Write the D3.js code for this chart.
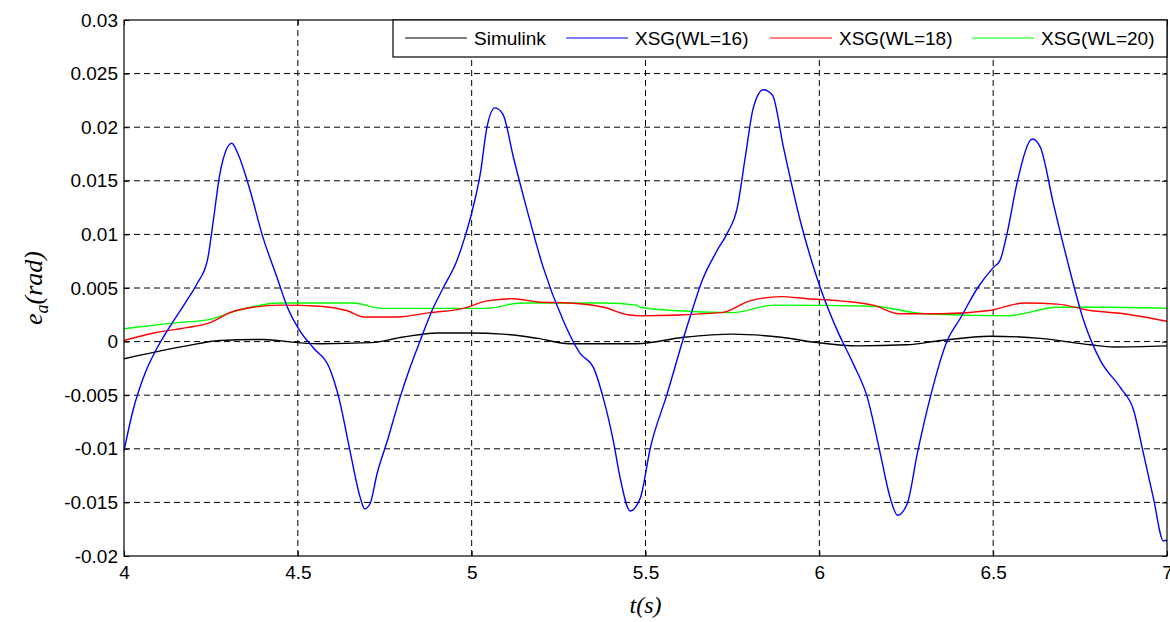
<!DOCTYPE html>
<html>
<head>
<meta charset="utf-8">
<script src="https://cdn.jsdelivr.net/npm/d3@7"></script>
<style>
body { margin: 0; background: #fff; }
</style>
</head>
<body>
<div id="chart"></div>
<script>
// series as [t, value] pairs
var simulink = [[4.0,-0.0016],[4.085,-0.001],[4.18,-0.0004],[4.276,0.0001],[4.40,0.0002],[4.50,-0.0001],[4.565,-0.0002],[4.71,-0.0001],[4.80,0.0004],[4.90,0.0008],[4.995,0.0008],[5.09,0.0007],[5.19,0.0003],[5.28,-0.0002],[5.475,-0.0002],[5.61,0.0004],[5.75,0.0007],[5.89,0.0004],[5.995,-0.0001],[6.11,-0.0004],[6.25,-0.0003],[6.35,0.0001],[6.49,0.0005],[6.636,0.0003],[6.78,-0.0003],[6.846,-0.0005],[7.0,-0.0004]];

var wl16 = [[4.0,-0.0102],[4.026,-0.0064],[4.06,-0.003],[4.095,-0.0006],[4.13,0.0013],[4.18,0.0038],[4.21,0.0054],[4.24,0.0076],[4.257,0.0113],[4.276,0.0157],[4.31,0.0185],[4.328,0.0175],[4.36,0.0144],[4.40,0.0097],[4.44,0.006],[4.47,0.0032],[4.506,0.001],[4.545,-0.0006],[4.59,-0.0024],[4.62,-0.0055],[4.65,-0.0102],[4.68,-0.0146],[4.692,-0.0156],[4.708,-0.0151],[4.728,-0.0123],[4.757,-0.0093],[4.794,-0.0052],[4.823,-0.0024],[4.852,0.0001],[4.886,0.0029],[4.918,0.005],[4.958,0.0076],[4.98,0.0097],[5.0,0.012],[5.025,0.0157],[5.044,0.020],[5.067,0.0218],[5.09,0.0212],[5.12,0.0172],[5.16,0.0122],[5.206,0.0069],[5.263,0.002],[5.312,-0.0011],[5.35,-0.0024],[5.378,-0.0052],[5.407,-0.0092],[5.427,-0.0127],[5.456,-0.0158],[5.485,-0.0146],[5.514,-0.0099],[5.562,-0.0049],[5.61,0.0004],[5.634,0.0029],[5.663,0.0057],[5.706,0.0085],[5.735,0.0101],[5.764,0.0125],[5.787,0.0172],[5.81,0.0218],[5.839,0.0235],[5.865,0.023],[5.897,0.0181],[5.945,0.0113],[6.003,0.005],[6.052,0.001],[6.098,-0.0021],[6.138,-0.0052],[6.175,-0.0104],[6.204,-0.0146],[6.225,-0.0162],[6.253,-0.0151],[6.282,-0.0104],[6.319,-0.0052],[6.368,0.0001],[6.406,0.0022],[6.455,0.005],[6.50,0.0069],[6.52,0.0076],[6.54,0.0101],[6.57,0.015],[6.613,0.0189],[6.636,0.0181],[6.673,0.0129],[6.713,0.0076],[6.76,0.002],[6.809,-0.0018],[6.866,-0.0043],[6.904,-0.0064],[6.932,-0.0104],[6.961,-0.0146],[6.99,-0.0186],[7.0,-0.0185]];

var wl18 = [[4.0,0.0001],[4.085,0.0008],[4.18,0.0013],[4.25,0.0018],[4.305,0.0027],[4.37,0.0032],[4.45,0.0034],[4.565,0.0033],[4.64,0.0029],[4.69,0.0023],[4.785,0.0023],[4.88,0.0027],[4.977,0.0031],[5.045,0.0038],[5.12,0.004],[5.19,0.0037],[5.28,0.0036],[5.38,0.0032],[5.45,0.0025],[5.485,0.0024],[5.72,0.0027],[5.80,0.0038],[5.89,0.0042],[5.965,0.004],[6.06,0.0038],[6.155,0.0034],[6.23,0.0026],[6.35,0.0026],[6.49,0.0029],[6.59,0.0036],[6.685,0.0035],[6.78,0.0029],[6.875,0.0026],[7.0,0.0019]];

var wl20 = [[4.0,0.0012],[4.13,0.0017],[4.25,0.0021],[4.325,0.0029],[4.45,0.0036],[4.66,0.0036],[4.74,0.0031],[5.045,0.0031],[5.14,0.0036],[5.38,0.0036],[5.475,0.0034],[5.485,0.0032],[5.58,0.0029],[5.75,0.0027],[5.87,0.0034],[6.155,0.0033],[6.30,0.0026],[6.54,0.0024],[6.685,0.0032],[6.83,0.0032],[7.0,0.0031]];

var seriesNames = ["Simulink", "XSG(WL=16)", "XSG(WL=18)", "XSG(WL=20)"];
var seriesColors = ["#000000", "#0000ff", "#ff0000", "#00ff00"];
var xTicks = [4, 4.5, 5, 5.5, 6, 6.5, 7];
var yTicks = [-0.02, -0.015, -0.01, -0.005, 0, 0.005, 0.01, 0.015, 0.02, 0.025, 0.03];

var width = 1170, height = 622;
var mLeft = 124, mRight = 1167, mTop = 20, mBottom = 556;

var svg = d3.select("#chart")
	.append("svg")
	.attr("width", width)
	.attr("height", height)
	.style("font-family", "Helvetica, Arial, 'Liberation Sans', sans-serif");

var x = d3.scaleLinear().domain([4, 7]).range([mLeft, mRight]);
var y = d3.scaleLinear().domain([-0.02, 0.03]).range([mBottom, mTop]);

// grid
svg.selectAll(".vgrid")
	.data(xTicks.slice(1, -1))
	.enter()
	.append("line")
	.attr("class", "vgrid")
	.attr("x1", d => x(d)).attr("x2", d => x(d))
	.attr("y1", mTop).attr("y2", mBottom)
	.attr("stroke", "#000")
	.attr("stroke-width", 1)
	.attr("stroke-dasharray", "6,4");

svg.selectAll(".hgrid")
	.data(yTicks.slice(1, -1))
	.enter()
	.append("line")
	.attr("class", "hgrid")
	.attr("x1", mLeft).attr("x2", mRight)
	.attr("y1", d => y(d)).attr("y2", d => y(d))
	.attr("stroke", "#000")
	.attr("stroke-width", 1)
	.attr("stroke-dasharray", "6,4");

// axes with inward ticks, plain hyphen for negatives
var xAxis = d3.axisBottom(x).tickValues(xTicks).tickSizeInner(-5).tickSizeOuter(0).tickFormat(d => String(d));
var yAxis = d3.axisLeft(y).tickValues(yTicks).tickSizeInner(-5).tickSizeOuter(0).tickFormat(d => String(d));

svg.append("g")
	.attr("transform", "translate(0," + mBottom + ")")
	.call(xAxis)
	.call(g => g.selectAll("text").attr("y", 10).attr("dy", "0.71em").style("font-size", "19px").attr("fill", "#000"));

svg.append("g")
	.attr("transform", "translate(" + mLeft + ",0)")
	.call(yAxis)
	.call(g => g.selectAll("text").attr("x", -6).style("font-size", "19px").attr("fill", "#000"));

svg.append("g")
	.attr("transform", "translate(0," + mTop + ")")
	.call(d3.axisTop(x).tickValues(xTicks).tickSizeInner(-5).tickSizeOuter(0).tickFormat(""));

svg.append("g")
	.attr("transform", "translate(" + mRight + ",0)")
	.call(d3.axisRight(y).tickValues(yTicks).tickSizeInner(-5).tickSizeOuter(0).tickFormat(""));

svg.selectAll(".domain").remove();

// lines
var line = d3.line().curve(d3.curveMonotoneX).x(d => x(d[0])).y(d => y(d[1]));
var allSeries = [simulink, wl16, wl18, wl20];

svg.append("g")
	.selectAll("path")
	.data([wl20, wl18, simulink, wl16])
	.enter()
	.append("path")
	.attr("d", line)
	.attr("fill", "none")
	.attr("stroke", d => seriesColors[allSeries.indexOf(d)])
	.attr("stroke-width", 1.4);

// frame
svg.append("rect")
	.attr("x", mLeft).attr("y", mTop)
	.attr("width", mRight - mLeft).attr("height", mBottom - mTop)
	.attr("fill", "none")
	.attr("stroke", "#000")
	.attr("stroke-width", 1.2);

// legend
var legendX = [405, 566, 770, 972];
var legend = svg.append("g");
legend.append("rect")
	.attr("x", 393).attr("y", mTop)
	.attr("width", mRight - 393).attr("height", 37)
	.attr("fill", "#fff")
	.attr("stroke", "#000")
	.attr("stroke-width", 1.2);

legend.selectAll("line")
	.data(seriesNames)
	.enter()
	.append("line")
	.attr("x1", (d, i) => legendX[i])
	.attr("x2", (d, i) => legendX[i] + 62)
	.attr("y1", 38).attr("y2", 38)
	.attr("stroke", (d, i) => seriesColors[i])
	.attr("stroke-width", 1.2);

legend.selectAll("text")
	.data(seriesNames)
	.enter()
	.append("text")
	.attr("x", (d, i) => legendX[i] + 69)
	.attr("y", 45)
	.text(d => d)
	.style("font-size", "19px");

// axis labels
svg.append("text")
	.attr("x", (mLeft + mRight) / 2)
	.attr("y", 613)
	.style("font-family", "'Times New Roman', 'Liberation Serif', serif")
	.style("font-style", "italic")
	.style("font-size", "24px")
	.style("text-anchor", "middle")
	.text("t(s)");

var ylab = svg.append("text")
	.attr("transform", "translate(42," + ((mTop + mBottom) / 2) + ") rotate(-90)")
	.style("font-family", "'Times New Roman', 'Liberation Serif', serif")
	.style("font-style", "italic")
	.style("font-size", "26px")
	.style("text-anchor", "middle");
ylab.append("tspan").text("e");
ylab.append("tspan").attr("dy", 6).style("font-size", "18px").text("a");
ylab.append("tspan").attr("dy", -6).text("(rad)");
</script>
</body>
</html>
